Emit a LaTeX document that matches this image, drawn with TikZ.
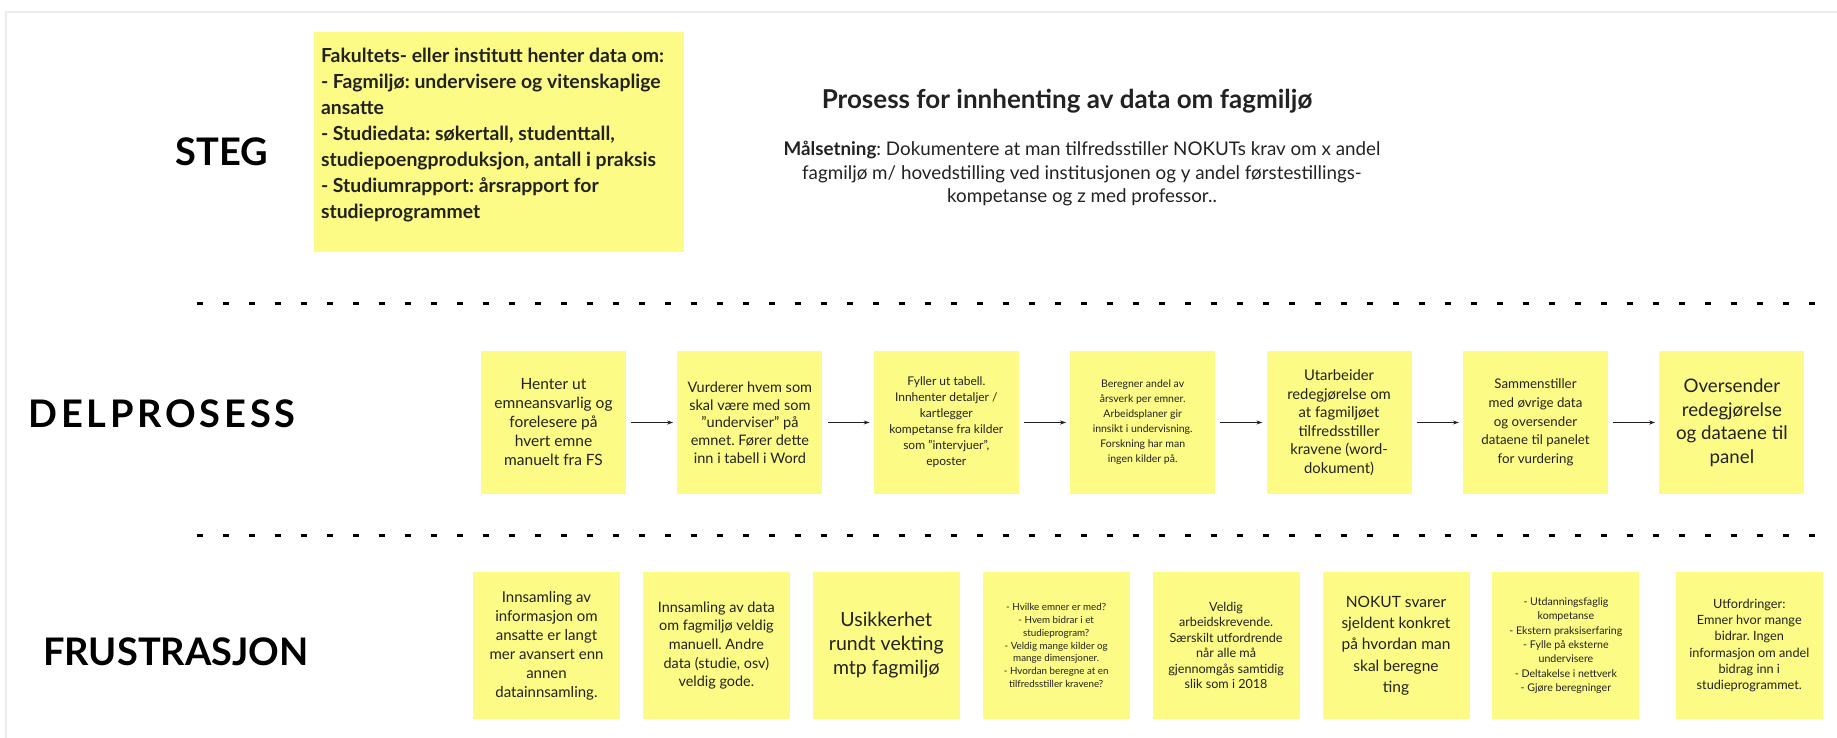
\documentclass[tikz,border=0pt]{standalone}
\usepackage{fontspec}
\setmainfont{Lato}
\usepackage{tikz}
\usetikzlibrary{positioning}
\usetikzlibrary{arrows.meta}
\definecolor{notey}{HTML}{FCFB85}
\definecolor{ink}{HTML}{222222}
\definecolor{rim}{HTML}{ECECEC}
\newcommand{\sz}[2]{\fontsize{#1}{#2}\selectfont}
\frenchspacing
\tikzstyle{note}=[fill=notey, text=ink, align=center, inner sep=0pt]
\tikzstyle{task}=[note, minimum width=145pt, minimum height=143pt]
\tikzstyle{pain}=[note, minimum width=147pt, minimum height=147pt]
\tikzstyle{lane}=[font=\sz{38}{40}\bfseries, text=black]
\tikzstyle{divider}=[line width=3pt, dash pattern=on 6pt off 20pt]
\tikzstyle{flow}=[-{Stealth[length=6pt, width=4pt]}, draw=ink, line width=0.8pt, shorten <=5pt, shorten >=4pt]

\begin{document}
\begin{tikzpicture}[x=1pt, y=-1pt]
            \useasboundingbox (0,0) rectangle (1837,738);
            \draw[rim, line width=2pt] (6,738) -- (6,12) -- (1837,12);

            \node[lane] (steg) at (222,152) {STEG};
            \node[lane, font=\sz{38}{40}\bfseries\addfontfeature{LetterSpace=10}] (delp) at (162,414) {DELPROSESS};
            \node[lane] (frus) at (176,652) {FRUSTRASJON};

            \node[note, minimum width=370pt, minimum height=220pt] (kilder) at (499,142) {};
            \node[anchor=west, align=left, inner sep=0pt, text=ink, font=\sz{19.4}{26}\bfseries] (kildetekst) at ([shift={(7,-7)}]kilder.west)
                {Fakultets- eller institutt henter data om:\\- Fagmiljø: undervisere og vitenskaplige\\ansatte\\- Studiedata: søkertall, studenttall,\\studiepoengproduksjon, antall i praksis\\- Studiumrapport: årsrapport for\\studieprogrammet};
            \node[font=\sz{26}{30}\bfseries, text=ink] (title) at (1067,101) {Prosess for innhenting av data om fagmiljø};
            \node[font=\sz{18.8}{23.5}, align=center, text=ink] (goal) at (1082,174)
                {\textbf{Målsetning}: Dokumentere at man tilfredsstiller NOKUTs krav om x andel\\fagmiljø m/ hovedstilling ved institusjonen og y andel førstestillings-\\kompetanse og z med professor..};

            \draw[divider] (197,303) -- (1826,303);
            \draw[divider] (197,535) -- (1826,535);

            \node[task, font=\sz{15.5}{19}] (d1) at (553.5,422.5) {Henter ut\\emneansvarlig og\\forelesere på\\hvert emne\\manuelt fra FS};
            \node[task, font=\sz{14.5}{17.7}, right=51pt of d1] (d2) {Vurderer hvem som\\skal være med som\\"underviser" på\\emnet. Fører dette\\inn i tabell i Word};
            \node[task, font=\sz{12}{16}, right=51pt of d2] (d3) {Fyller ut tabell.\\Innhenter detaljer /\\kartlegger\\kompetanse fra kilder\\som "intervjuer",\\eposter};
            \node[task, font=\sz{10.5}{15}, right=51pt of d3] (d4) {Beregner andel av\\årsverk per emner.\\Arbeidsplaner gir\\innsikt i undervisning.\\Forskning har man\\ingen kilder på.};
            \node[task, font=\sz{14.8}{18.5}, right=51pt of d4] (d5) {Utarbeider\\redegjørelse om\\at fagmiljøet\\tilfredsstiller\\kravene (word-\\dokument)};
            \node[task, font=\sz{13.3}{18.6}, right=51pt of d5] (d6) {Sammenstiller\\med øvrige data\\og oversender\\dataene til panelet\\for vurdering};
            \node[task, font=\sz{18.7}{23.5}, right=51pt of d6] (d7) {Oversender\\redegjørelse\\og dataene til\\panel};

            \draw[flow] (d1) -- (d2);
            \draw[flow] (d2) -- (d3);
            \draw[flow] (d3) -- (d4);
            \draw[flow] (d4) -- (d5);
            \draw[flow] (d5) -- (d6);
            \draw[flow] (d6) -- (d7);

            \node[pain, font=\sz{15}{19}] (f1) at (546.5,645.5) {Innsamling av\\informasjon om\\ansatte er langt\\mer avansert enn\\annen\\datainnsamling.};
            \node[pain, font=\sz{14.4}{18.6}, right=22.5pt of f1] (f2) {Innsamling av data\\om fagmiljø veldig\\manuell. Andre\\data (studie, osv)\\veldig gode.};
            \node[pain, font=\sz{19.5}{24}, right=22.5pt of f2] (f3) {Usikkerhet\\rundt vekting\\mtp fagmiljø};
            \node[pain, font=\sz{9.8}{12.9}, right=22.5pt of f3] (f4) {- Hvilke emner er med?\\- Hvem bidrar i et\\studieprogram?\\- Veldig mange kilder og\\mange dimensjoner.\\- Hvordan beregne at en\\tilfredsstiller kravene?};
            \node[pain, font=\sz{12.6}{15.4}, right=22.5pt of f4] (f5) {Veldig\\arbeidskrevende.\\Særskilt utfordrende\\når alle må\\gjennomgås samtidig\\slik som i 2018};
            \node[pain, font=\sz{15.5}{21.3}, right=22.5pt of f5] (f6) {NOKUT svarer\\sjeldent konkret\\på hvordan man\\skal beregne\\ting};
            \node[pain, font=\sz{10.6}{14.4}, right=22.5pt of f6] (f7) {- Utdanningsfaglig\\kompetanse\\- Ekstern praksiserfaring\\- Fylle på eksterne\\undervisere\\- Deltakelse i nettverk\\- Gjøre beregninger};
            \node[pain, font=\sz{12.7}{16.3}, right=36pt of f7] (f8) {Utfordringer:\\Emner hvor mange\\bidrar. Ingen\\informasjon om andel\\bidrag inn i\\studieprogrammet.};
        \end{tikzpicture}
\end{document}
